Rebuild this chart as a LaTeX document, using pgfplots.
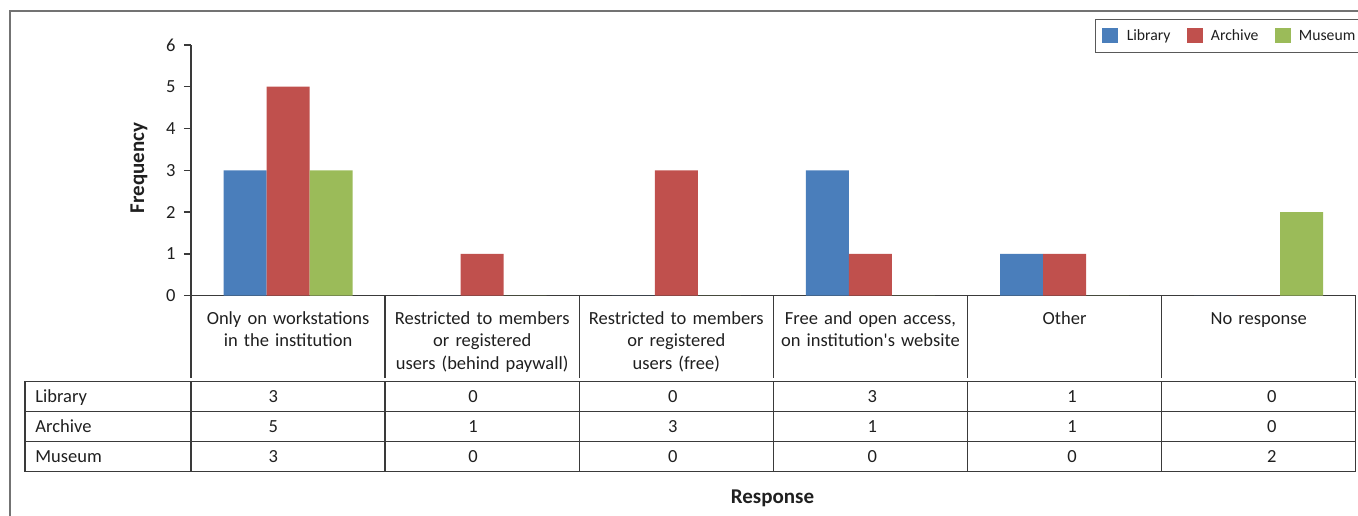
\documentclass[border=0pt]{standalone}
\usepackage{pgfplots}
\usepackage{pgfplotstable}
\pgfplotsset{compat=1.18}
\usepackage{fontspec}
\setmainfont{Carlito}[Ligatures=TeXOff]

\definecolor{libblue}{HTML}{4A7EBB}
\definecolor{arcred}{HTML}{C0504D}
\definecolor{musgreen}{HTML}{9BBB59}
\definecolor{ink}{HTML}{1F1F1F}
\definecolor{rule}{HTML}{3A3A3A}

% Frequency of each access type, per institution type
\pgfplotstableread{
idx lib arc mus
0   3   5   3
1   0   1   0
2   0   3   0
3   3   1   0
4   1   1   0
5   0   0   2
}\responses

\begin{document}
\begin{tikzpicture}[font=\fontsize{9.25}{11.25}\selectfont, text=ink]
% page: 679pt x 257.5pt (0.5pt per unit below)
\path[use as bounding box] (0,0) rectangle (679pt,-257.5pt);
\clip (0,0) rectangle (679pt,-257.5pt);

\begin{scope}[x=0.5pt,y=-0.5pt]
  % chart frame
  \draw[black!55, line width=0.7pt] (10,11) rectangle (1400,560);
\end{scope}

\begin{axis}[
  at={(95.5pt,-147.85pt)}, anchor=origin,
  scale only axis, width=582.35pt, height=125.4pt,
  xmin=0, xmax=6, ymin=0, ymax=6,
  axis x line*=bottom, axis y line*=left,
  axis line style={-, draw=rule, line width=0.7pt},
  xtick=\empty,
  ytick={0,...,6},
  tick align=outside, major tick length=3.6pt,
  tick style={draw=rule, line width=0.7pt},
  yticklabel style={font=\fontsize{9.25}{11.25}\selectfont, inner sep=0pt, xshift=-4pt, text=ink},
  /pgf/number format/assume math mode=true,
  legend columns=3,
  legend style={
    at={(0.7762,1.1033)}, anchor=north west,
    draw=black!65, line width=0.6pt,
    font=\fontsize{7.85}{9}\selectfont,
    inner xsep=3.35pt, inner ysep=4.3pt,
    nodes={inner sep=0pt, anchor=base west},
    /tikz/every odd column/.style={column sep=4.2pt},
    /tikz/every even column/.style={column sep=8pt},
  },
  legend image code/.code={\fill[#1, draw=none] (0pt,-1.2pt) rectangle (8pt,6.3pt);},
]
\addplot[ybar, bar width=0.2215, bar shift=-0.2215, fill=libblue, draw=none]
  table[x expr=\coordindex+0.5, y=lib] {\responses};
\addplot[ybar, bar width=0.2215, bar shift=0, fill=arcred, draw=none]
  table[x expr=\coordindex+0.5, y=arc] {\responses};
\addplot[ybar, bar width=0.2215, bar shift=0.2215, fill=musgreen, draw=none]
  table[x expr=\coordindex+0.5, y=mus] {\responses};
\legend{Library, Archive, Museum}
\end{axis}

\begin{scope}[x=0.5pt,y=-0.5pt]
  % category separators below the axis
  \foreach \i in {0,...,6} {
    \draw[rule, line width=0.7pt] ({191+194.12*\i},295.7) -- ({191+194.12*\i},378.3);
  }
  % category names
  \foreach \i/\lab in {
      0/{Only on workstations\\in the institution},
      1/{Restricted to members\\or registered\\users (behind paywall)},
      2/{Restricted to members\\or registered\\users (free)},
      3/{Free and open access,\\on institution's website},
      4/{Other},
      5/{No response}} {
    \node[anchor=base, text width=95pt, align=center, inner sep=0pt]
      at ({191+194.12*(\i+0.5)},324) {\lab};
  }
  % data table grid
  \draw[rule, line width=0.7pt] (25,381.7) rectangle (1355.7,471.7);
  \draw[rule, line width=0.7pt] (25,411.7) -- (1355.7,411.7);
  \draw[rule, line width=0.7pt] (25,441.7) -- (1355.7,441.7);
  \foreach \i in {0,...,5} {
    \draw[rule, line width=0.7pt] ({191+194.12*\i},381.7) -- ({191+194.12*\i},471.7);
  }
  % data table rows, filled from the same table as the bars
  \foreach \r/\col/\name in {0/lib/Library, 1/arc/Archive, 2/mus/Museum} {
    \node[anchor=base west, inner sep=0pt] at (35,{402.7+30*\r}) {\name};
    \foreach \c in {0,...,5} {
      \pgfplotstablegetelem{\c}{\col}\of\responses
      \node[anchor=base, inner sep=0pt] at ({273.3+199.7*\c},{402.7+30*\r}) {\pgfplotsretval};
    }
  }
  % axis titles
  \node[rotate=90, anchor=center, font=\fontsize{10.5}{12}\selectfont\bfseries] at (139,168) {Frequency};
  \node[anchor=center, font=\fontsize{10.5}{12}\selectfont\bfseries] at (772.5,498) {Response};
\end{scope}
\end{tikzpicture}
\end{document}
